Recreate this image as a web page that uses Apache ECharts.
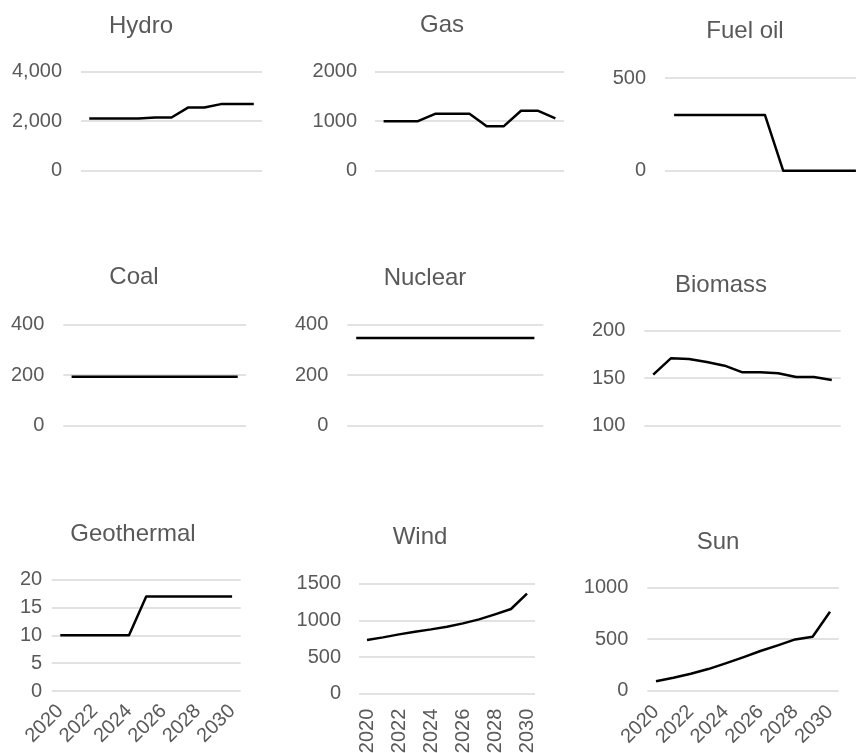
<!DOCTYPE html>
<html>
<head>
<meta charset="utf-8">
<script src="https://cdn.jsdelivr.net/npm/echarts@6/dist/echarts.min.js"></script>
<style>
html,body{margin:0;padding:0;background:#fff;}
#c{width:856px;height:753px;}
</style>
</head>
<body>
<div id="c"></div>
<script>
// ---- data ----
const years = ['2020','2021','2022','2023','2024','2025','2026','2027','2028','2029','2030'];
const titles = ['Hydro','Gas','Fuel oil','Coal','Nuclear','Biomass','Geothermal','Wind','Sun'];

const hydro      = [2110, 2110, 2110, 2110, 2150, 2150, 2550, 2550, 2690, 2690, 2690];
const gas        = [1000, 1000, 1000, 1150, 1150, 1150, 900, 900, 1210, 1210, 1055];
const fuelOil    = [300, 300, 300, 300, 300, 300, 0, 0, 0, 0, 0];
const coal       = [193, 193, 193, 193, 193, 193, 193, 193, 193, 193, 193];
const nuclear    = [347, 347, 347, 347, 347, 347, 347, 347, 347, 347, 347];
const biomass    = [153.5, 171, 170, 167, 163, 156, 156, 155, 151, 151, 148];
const geothermal = [10, 10, 10, 10, 10, 17, 17, 17, 17, 17, 17];
const wind       = [732, 768, 809, 845, 877, 914, 959, 1014, 1082, 1155, 1364];
const sun        = [91, 126, 165, 210, 265, 324, 385, 440, 498, 524, 767];

const hydroTicks      = [0, 2000, 4000];
const gasTicks        = [0, 1000, 2000];
const fuelOilTicks    = [0, 500];
const coalTicks       = [0, 200, 400];
const nuclearTicks    = [0, 200, 400];
const biomassTicks    = [100, 150, 200];
const geothermalTicks = [0, 5, 10, 15, 20];
const windTicks       = [0, 500, 1000, 1500];
const sunTicks        = [0, 500, 1000];

const seriesData = [hydro, gas, fuelOil, coal, nuclear, biomass, geothermal, wind, sun];
const tickSets = [hydroTicks, gasTicks, fuelOilTicks, coalTicks, nuclearTicks, biomassTicks, geothermalTicks, windTicks, sunTicks];

// ---- layout (pixels) ----
const grids = [
  {left: 81,    top: 71.7,  width: 181,   height: 99},
  {left: 375,   top: 71.7,  width: 189,   height: 99},
  {left: 665,   top: 78,    width: 200,   height: 92.7},
  {left: 63.3,  top: 324.7, width: 182.7, height: 100.6},
  {left: 347.3, top: 324.7, width: 196,   height: 100.6},
  {left: 644.3, top: 330.7, width: 196.4, height: 94.6},
  {left: 51.7,  top: 579.7, width: 189,   height: 111.3},
  {left: 359,   top: 583.7, width: 176,   height: 110},
  {left: 647.3, top: 587.7, width: 191.4, height: 103}
];
const titlePos = [
  [141, 26.5], [442, 25.5], [745, 31],
  [134, 277.5], [425, 278.5], [721, 285],
  [133, 534.5], [420, 537.5], [718, 542.5]
];
const yLabelMargin = [19, 18, 19, 19, 19, 19, 9.5, 18, 19];
const xRotate = [0, 0, 0, 0, 0, 0, 45, 90, 45];
const xMargin = [12, 12, 12, 12, 12, 12, 17, 15, 18];

const textColor = '#595959';
const fontFamily = 'Liberation Sans, Arial, sans-serif';

const option = {
  animation: false,
  backgroundColor: '#ffffff',
  title: titles.map((t, i) => ({
    text: t,
    left: titlePos[i][0],
    top: titlePos[i][1],
    padding: 0,
    textAlign: 'center',
    textVerticalAlign: 'middle',
    textStyle: {color: textColor, fontSize: 24, fontWeight: 'normal', fontFamily: fontFamily}
  })),
  grid: grids.map(g => Object.assign({containLabel: false, outerBoundsMode: 'none'}, g)),
  xAxis: grids.map((g, i) => ({
    type: 'category',
    gridIndex: i,
    data: years,
    boundaryGap: true,
    axisLine: {show: false},
    axisTick: {show: false},
    axisLabel: {
      show: i >= 6,
      interval: 1,
      rotate: xRotate[i],
      margin: xMargin[i],
      color: textColor,
      fontSize: 20,
      fontFamily: fontFamily
    },
    splitLine: {show: false}
  })),
  yAxis: grids.map((g, i) => {
    const ticks = tickSets[i];
    return {
      type: 'value',
      gridIndex: i,
      min: ticks[0],
      max: ticks[ticks.length - 1],
      interval: ticks[1] - ticks[0],
      axisLine: {show: false},
      axisTick: {show: false},
      axisLabel: {
        margin: yLabelMargin[i],
        color: textColor,
        fontSize: 20,
        fontFamily: fontFamily,
        formatter: i === 0 ? (v => v.toLocaleString('en-US')) : (v => String(v))
      },
      splitLine: {show: true, lineStyle: {color: '#d9d9d9', width: 1.5}}
    };
  }),
  series: seriesData.map((d, i) => ({
    type: 'line',
    name: titles[i],
    xAxisIndex: i,
    yAxisIndex: i,
    data: d,
    symbol: 'none',
    lineStyle: {color: '#000000', width: 2.5, join: 'round'},
    z: 3
  }))
};

const chart = echarts.init(document.getElementById('c'), null, {renderer: 'canvas'});
chart.setOption(option);
</script>
</body>
</html>
